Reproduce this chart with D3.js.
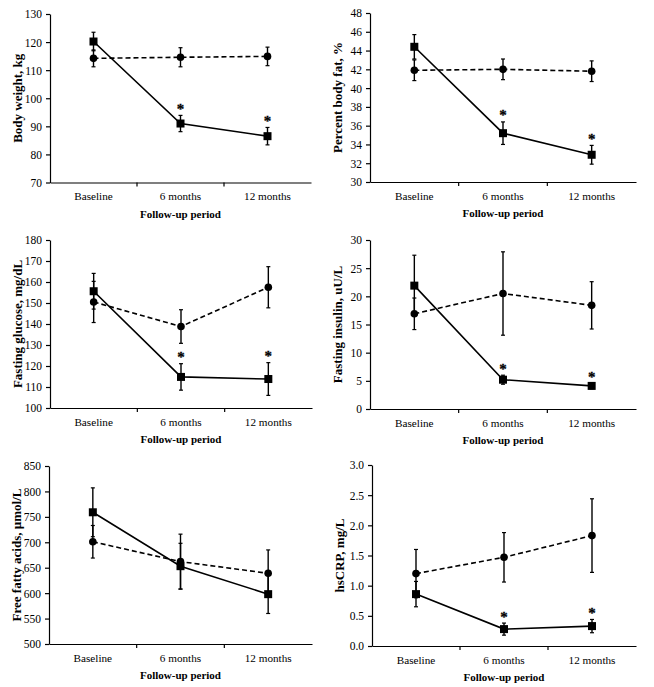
<!DOCTYPE html>
<html><head><meta charset="utf-8">
<script src="https://cdn.jsdelivr.net/npm/d3@7"></script>
<style>
body{margin:0;background:#fff;}
svg{display:block;}
text{font-family:"Liberation Serif","Times New Roman",serif;fill:#000;}
</style></head>
<body><svg id="c" width="654" height="687"></svg>
<script>
const categories = ["Baseline", "6 months", "12 months"];

const weightDiet = [120.2, 91.0, 86.5];
const weightDietErr = [3.3, 2.9, 3.1];
const weightCtrl = [114.2, 114.6, 114.9];
const weightCtrlErr = [3.0, 3.4, 3.3];

const fatDiet = [44.4, 35.2, 32.9];
const fatDietErr = [1.3, 1.2, 1.0];
const fatCtrl = [41.9, 42.0, 41.8];
const fatCtrlErr = [1.1, 1.1, 1.1];

const glucoseDiet = [155.6, 114.8, 113.8];
const glucoseDietErr = [8.5, 6.3, 7.8];
const glucoseCtrl = [150.5, 138.8, 157.5];
const glucoseCtrlErr = [9.8, 8.0, 9.8];

const insulinDiet = [21.9, 5.2, 4.1];
const insulinDietErr = [5.4, 0.8, 0.5];
const insulinCtrl = [16.9, 20.5, 18.4];
const insulinCtrlErr = [2.8, 7.4, 4.2];

const ffaDiet = [759, 653, 598];
const ffaDietErr = [48, 45, 38];
const ffaCtrl = [701, 662, 639];
const ffaCtrlErr = [32, 54, 46];

const crpDiet = [0.86, 0.28, 0.33];
const crpDietErr = [0.21, 0.10, 0.11];
const crpCtrl = [1.20, 1.47, 1.83];
const crpCtrlErr = [0.40, 0.41, 0.61];

const yTitles = ["Body weight, kg", "Percent body fat, %", "Fasting glucose, mg/dL",
                 "Fasting insulin, uU/L", "Free fatty acids, µmol/L", "hsCRP, mg/L"];
const yDomains = [[70, 130], [30, 48], [100, 180], [0, 30], [500, 850], [0, 3]];
const yTickSteps = [10, 2, 10, 5, 50, 0.5];
const yTickFormats = ["d", "d", "d", "d", "d", ".1f"];
const significant = [[false, true, true], [false, true, true], [false, true, true],
                     [false, true, true], [false, false, false], [false, true, true]];
const xTitle = "Follow-up period";

const panelsData = [
  [weightDiet, weightDietErr, weightCtrl, weightCtrlErr],
  [fatDiet, fatDietErr, fatCtrl, fatCtrlErr],
  [glucoseDiet, glucoseDietErr, glucoseCtrl, glucoseCtrlErr],
  [insulinDiet, insulinDietErr, insulinCtrl, insulinCtrlErr],
  [ffaDiet, ffaDietErr, ffaCtrl, ffaCtrlErr],
  [crpDiet, crpDietErr, crpCtrl, crpCtrlErr]
];

// layout boxes: [left, right, top, bottom]
const boxes = [
  [50, 311, 14, 182.5],
  [370, 636, 13, 182],
  [50, 312, 240, 408],
  [370, 636, 240, 409],
  [49, 312, 466, 644],
  [372, 636, 465, 646]
];

const svg = d3.select("#c");

panelsData.forEach((pd, i) => {
  const [L, R, T, B] = boxes[i];
  const [diet, dietErr, ctrl, ctrlErr] = pd;
  const g = svg.append("g");
  const x = d3.scaleBand().domain(categories).range([L, R]).padding(0);
  const y = d3.scaleLinear().domain(yDomains[i]).range([B, T]);
  const step = yTickSteps[i];
  const ticks = d3.range(yDomains[i][0], yDomains[i][1] + step / 2, step);

  // y axis
  const ya = g.append("g").attr("transform", `translate(${L},0)`)
    .call(d3.axisLeft(y).tickValues(ticks).tickFormat(d3.format(yTickFormats[i])).tickSize(4).tickPadding(4).tickSizeOuter(0));
  ya.select(".domain").attr("stroke", "#000").attr("stroke-width", 1.2);
  ya.selectAll(".tick line").attr("stroke", "#000").attr("stroke-width", 1.2);
  ya.selectAll(".tick text").style("font-family", "Liberation Serif").style("font-size", "11.5px")
    .attr("transform", "scale(1,1.08)").attr("y", function(d){ return 0; });

  // x axis
  const xa = g.append("g").attr("transform", `translate(0,${B})`)
    .call(d3.axisBottom(x).tickSize(0).tickPadding(10).tickSizeOuter(0));
  xa.select(".domain").attr("stroke", "#000").attr("stroke-width", 1.2);
  xa.selectAll(".tick text").style("font-family", "Liberation Serif").style("font-size", "11.2px");
  // category boundary ticks
  const bounds = categories.slice(1).map(c => x(c));
  g.selectAll(".bt").data(bounds).enter().append("line")
    .attr("x1", d => d).attr("x2", d => d).attr("y1", B).attr("y2", B + 4)
    .attr("stroke", "#000").attr("stroke-width", 1.2);

  // titles
  g.append("text").attr("x", (L + R) / 2).attr("y", B + 35)
    .attr("text-anchor", "middle").style("font-weight", "bold").style("font-size", "11px").text(xTitle);
  g.append("text").attr("transform", `translate(${L - 28},${(T + B) / 2}) rotate(-90)`)
    .attr("text-anchor", "middle").style("font-weight", "bold").style("font-size", "13px").text(yTitles[i]);

  const cx = c => x(c) + x.bandwidth() / 2;
  const series = [
    {vals: ctrl, err: ctrlErr, dash: "5,3", shape: "circle"},
    {vals: diet, err: dietErr, dash: null, shape: "square"}
  ];
  series.forEach(s => {
    // error bars
    categories.forEach((c, k) => {
      const xc = cx(c);
      const y1 = y(s.vals[k] + s.err[k]), y2 = y(s.vals[k] - s.err[k]);
      g.append("line").attr("x1", xc).attr("x2", xc).attr("y1", y1).attr("y2", y2)
        .attr("stroke", "#000").attr("stroke-width", 1.4);
      [y1, y2].forEach(yy => g.append("line").attr("x1", xc - 2).attr("x2", xc + 2)
        .attr("y1", yy).attr("y2", yy).attr("stroke", "#000").attr("stroke-width", 1.2));
    });
  });
  series.forEach(s => {
    const line = d3.line().x((d, k) => cx(categories[k])).y(d => y(d));
    g.append("path").datum(s.vals).attr("d", line).attr("fill", "none")
      .attr("stroke", "#000").attr("stroke-width", 1.6)
      .attr("stroke-dasharray", s.dash);
    categories.forEach((c, k) => {
      if (s.shape === "circle") {
        g.append("circle").attr("cx", cx(c)).attr("cy", y(s.vals[k])).attr("r", 3.8).attr("fill", "#000");
      } else {
        g.append("rect").attr("x", cx(c) - 4).attr("y", y(s.vals[k]) - 4)
          .attr("width", 8).attr("height", 8).attr("fill", "#000");
      }
    });
  });
  // significance asterisks
  categories.forEach((c, k) => {
    if (significant[i][k]) {
      g.append("text").attr("x", cx(c)).attr("y", y(diet[k] + dietErr[k]) - 1.5)
        .attr("text-anchor", "middle").style("font-size", "15px").style("font-weight", "bold")
        .style("fill", "#000").attr("stroke", "#000").attr("stroke-width", 0.3).text("*");
    }
  });
});
</script></body></html>
